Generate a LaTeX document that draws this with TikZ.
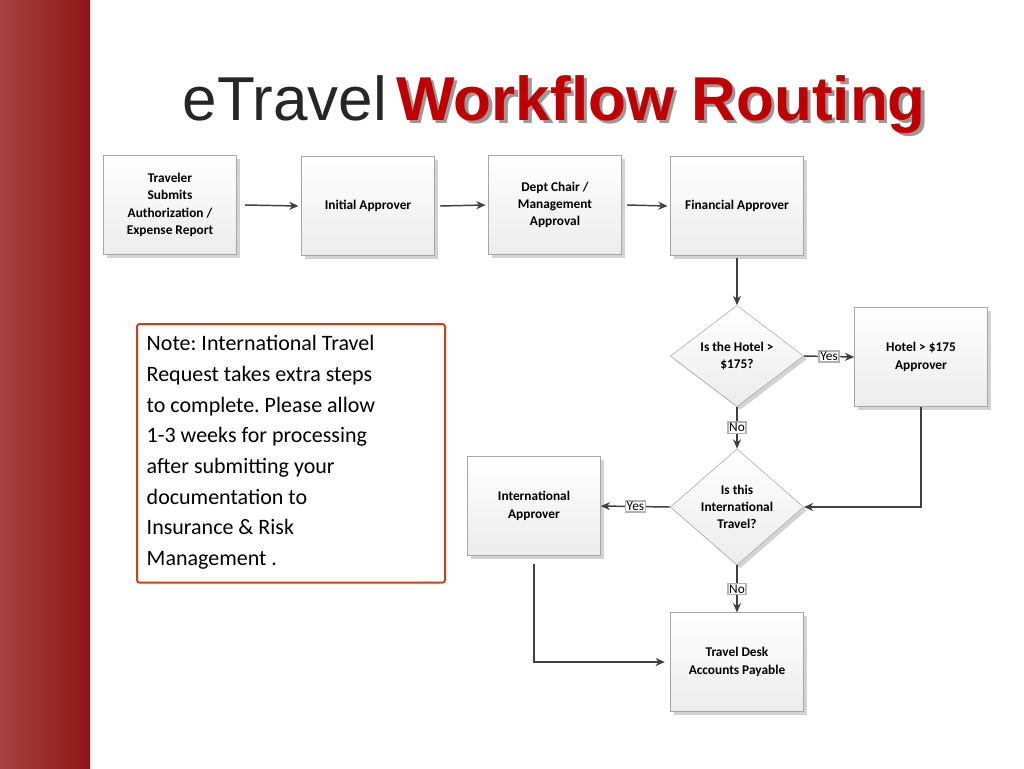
\documentclass[tikz,border=0pt]{standalone}
\usepackage{fontspec}
\setmainfont{Carlito}
\newfontfamily\titlefont{Liberation Sans}
\usetikzlibrary{shapes.geometric,shadows,arrows.meta}
\definecolor{barred}{HTML}{8E1416}
\definecolor{titlered}{HTML}{C00000}
\definecolor{notered}{HTML}{C8401A}
\frenchspacing
\begin{document}
\begin{tikzpicture}[x=0.75pt,y=-0.75pt,>={Stealth[length=7pt,width=6pt]},
	stepbox/.style={shape=rectangle,draw=gray!70,top color=white,bottom color=gray!15,
		minimum width=99.75pt,minimum height=74pt,align=center,
		font=\bfseries\fontsize{10}{13}\selectfont,drop shadow={opacity=0.35}},
	choice/.style={shape=diamond,draw=gray!70,top color=white,bottom color=gray!15,
		minimum width=100pt,minimum height=75pt,inner sep=0pt,align=center,
		font=\bfseries\fontsize{10}{13}\selectfont,drop shadow={opacity=0.35}},
	flow/.style={->,draw=black!75,line width=1.1pt},
	tag/.style={fill=white,draw=gray!60,inner sep=1pt,font=\fontsize{10}{10}\selectfont}]
	\useasboundingbox (0,0) rectangle (1024,768);
	% the side bar and the title
	\shade[left color=barred!80!white,right color=barred] (0,0) rectangle (90,768);
	\node[anchor=base west,text=gray!30!black,font=\titlefont\fontsize{46.5}{50}\selectfont] (etravel) at (178,120) {eTravel};
	\node[anchor=base west,text=black!40,font=\titlefont\bfseries\fontsize{46.5}{50}\selectfont] (routingshadow) at ([xshift=2.5pt,yshift=-2.5pt]etravel.base east) {Workflow Routing};
	\node[anchor=base west,text=titlered,font=\titlefont\bfseries\fontsize{46.5}{50}\selectfont] (routing) at (etravel.base east) {Workflow Routing};

	% create the nodes.
	\node[stepbox] (traveler) at (170,205) {Traveler\\Submits\\Authorization /\\Expense Report};
	\node[stepbox] (initial) at (368,206) {Initial Approver};
	\node[stepbox] (dept) at (555,205) {Dept Chair /\\Management\\Approval};
	\node[stepbox] (financial) at (737,206) {Financial Approver};
	\node[choice] (hotel) at (737,356) {Is the Hotel >\\\$175?};
	\node[stepbox] (hotelapp) at (921,357) {Hotel > \$175\\Approver};
	\node[choice] (intl) at (737,507) {Is this\\International\\Travel?};
	\node[stepbox] (intlapp) at (534,506) {International\\Approver};
	\node[stepbox] (desk) at (737,662) {Travel Desk\\Accounts Payable};
	\node[draw=notered,line width=1.5pt,rounded corners=2pt,minimum width=231pt,minimum height=194pt,
		anchor=north west,inner sep=0pt] (note) at (136,323) {};
	\node[anchor=north west,align=left,font=\fontsize{16.5}{23}\selectfont] (notetext) at (142,331)
		{Note: International Travel\\Request takes extra steps\\to complete. Please allow\\1-3 weeks for processing\\after submitting your\\documentation to\\Insurance \& Risk\\Management .};

	% connect the nodes
	\draw[flow] ([xshift=6pt]traveler.east) -- ([xshift=-2pt]initial.west);
	\draw[flow] ([xshift=4pt]initial.east) -- ([xshift=-2pt]dept.west);
	\draw[flow] ([xshift=4pt]dept.east) -- ([xshift=-2pt]financial.west);
	\draw[flow] ([yshift=-2pt]financial.south) -- (hotel.north);
	\draw[flow] (hotel.east) -- node[tag] {Yes} (hotelapp.west);
	\draw[flow] (hotel.south) -- node[tag] {No} (intl.north);
	\draw[flow] (hotelapp.south) |- (intl.east);
	\draw[flow] (intl.west) -- node[tag] {Yes} (intlapp.east);
	\draw[flow] (intl.south) -- node[tag] {No} (desk.north);
	\draw[flow] ([yshift=-6pt]intlapp.south) |- ([xshift=-4pt]desk.west);
\end{tikzpicture}
\end{document}
